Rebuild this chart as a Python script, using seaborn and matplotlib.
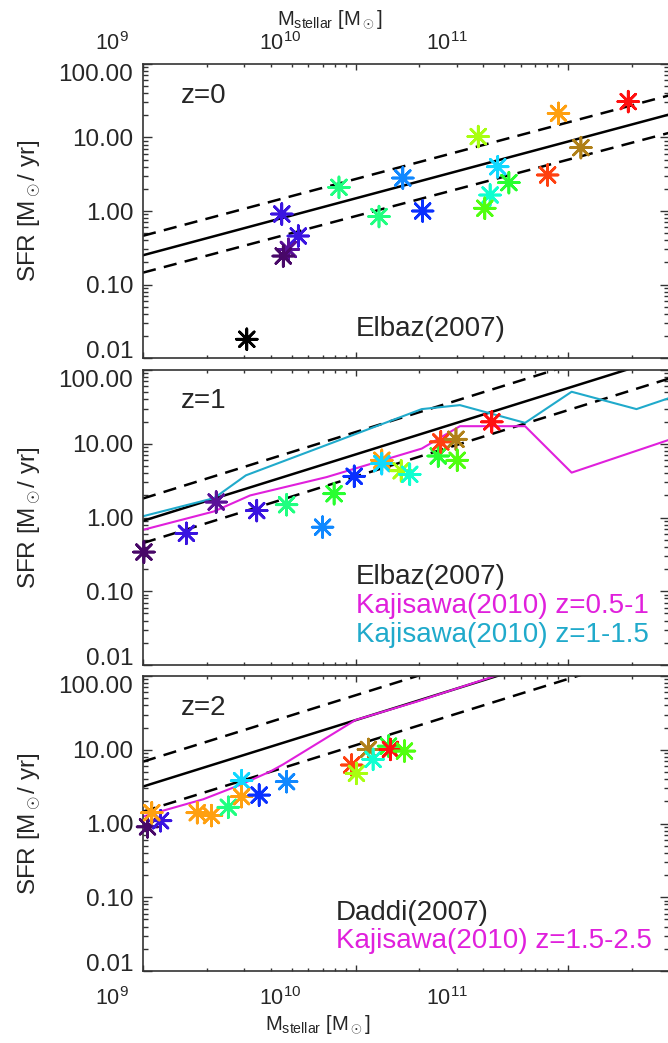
import matplotlib
matplotlib.use("Agg")
import matplotlib.pyplot as plt
import matplotlib.ticker as mticker
import seaborn as sns
import pandas as pd

# ------------------------------------------------------------------ data
galaxy_colors = {
    "black": "#000000", "dpurple": "#480868", "purple": "#5a1098",
    "bviolet": "#3a14e0", "blue": "#0a30ff", "azure": "#1088ff",
    "cyan": "#10d8ff", "turq": "#10ffd0", "sgreen": "#20ff80",
    "green": "#28ff30", "chart": "#50ff10", "ygreen": "#a8ff10",
    "orange": "#ffa010", "gold": "#b08018", "ored": "#ff4010", "red": "#ff1010",
}

# z = 0 galaxies
z0_mass = [3.08e9, 4.50e9, 5.38e9, 4.83e9, 4.57e9, 8.36e9, 1.29e10, 1.67e10, 2.07e10,
           3.78e10, 4.67e10, 5.27e10, 4.30e10, 4.06e10, 8.02e10, 9.02e10, 1.15e11, 1.92e11]
z0_sfr = [0.018, 0.91, 0.457, 0.30, 0.244, 2.10, 0.84, 2.81, 1.00,
          10.3, 4.0, 2.43, 1.65, 1.09, 3.09, 21.3, 7.28, 30.8]
z0_gal = ["black", "bviolet", "bviolet", "purple", "dpurple", "sgreen", "sgreen", "azure", "blue",
          "ygreen", "cyan", "green", "turq", "chart", "ored", "orange", "gold", "red"]

# z = 1 galaxies
z1_mass = [1.01e9, 1.60e9, 2.21e9, 3.43e9, 4.74e9, 7.00e9, 7.93e9, 9.86e9, 1.33e10,
           1.33e10, 1.64e10, 1.80e10, 2.45e10, 2.52e10, 2.97e10, 3.01e10, 4.38e10]
z1_sfr = [0.34, 0.61, 1.62, 1.24, 1.49, 0.74, 2.10, 3.62, 5.97,
          5.37, 4.3, 3.85, 6.82, 10.6, 11.5, 5.97, 19.8]
z1_gal = ["dpurple", "bviolet", "purple", "bviolet", "sgreen", "azure", "green", "blue", "orange",
          "cyan", "ygreen", "turq", "green", "ored", "gold", "chart", "red"]

# z = 2 galaxies
z2_mass = [1.05e9, 1.21e9, 1.10e9, 1.80e9, 2.10e9, 2.52e9, 2.91e9, 2.91e9, 3.52e9,
           4.74e9, 9.59e9, 1.01e10, 1.15e10, 1.21e10, 1.43e10, 1.46e10, 1.70e10]
z2_sfr = [0.90, 1.09, 1.40, 1.40, 1.28, 1.66, 3.81, 2.31, 2.43,
          3.69, 6.21, 4.78, 10.1, 7.41, 11.2, 10.1, 9.6]
z2_gal = ["dpurple", "bviolet", "orange", "orange", "orange", "sgreen", "cyan", "orange", "blue",
          "azure", "ored", "ygreen", "gold", "turq", "green", "red", "chart"]

# observed main-sequence relations (values at the two ends of the mass range)
rel_mass = [1e9, 3e11]
elbaz_z0_mid = [0.25, 20.6]
elbaz_z0_hi = [0.46, 37.5]
elbaz_z0_lo = [0.145, 11.6]
elbaz_z1_mid = [0.90, 153.0]
elbaz_z1_hi = [1.81, 307.0]
elbaz_z1_lo = [0.45, 76.8]
daddi_z2_mid = [3.17, 537.0]
daddi_z2_hi = [6.9, 1167.0]
daddi_z2_lo = [1.45, 245.0]

# Kajisawa (2010) median relations
kaj_a_mass = [1.0e9, 2.16e9, 3.19e9, 7.31e9, 2.05e10, 3.10e10, 6.28e10, 1.04e11, 2.96e11]
kaj_a_sfr = [0.68, 1.21, 1.99, 3.53, 8.6, 17.3, 17.3, 4.06, 11.2]
kaj_b_mass = [1.0e9, 2.16e9, 3.05e9, 2.05e10, 3.10e10, 6.28e10, 1.04e11, 2.10e11, 2.96e11]
kaj_b_sfr = [1.04, 1.83, 3.73, 29.5, 33.4, 19.2, 50.7, 29.5, 41.2]
kaj_c_mass = [1.0e9, 1.20e9, 1.92e9, 2.86e9, 3.96e9, 4.57e9, 1.0e10, 1.94e10, 4.53e10, 5.62e10]
kaj_c_sfr = [1.24, 1.45, 2.13, 3.33, 5.05, 6.34, 25.3, 44.9, 100.0, 125.0]

ytick_vals = [0.01, 0.1, 1.0, 10.0, 100.0]
xtick_text = [r"$\mathregular{10^{9}}$", r"$\mathregular{10^{10}}$", r"$\mathregular{10^{11}}$"]

# ------------------------------------------------------------------ style
sns.set_theme(style="ticks")
plt.rcParams["font.family"] = ["Liberation Sans", "DejaVu Sans"]
plt.rcParams["mathtext.fontset"] = "custom"
plt.rcParams["mathtext.rm"] = "Liberation Sans"
plt.rcParams["mathtext.it"] = "Liberation Sans:italic"
plt.rcParams["mathtext.bf"] = "Liberation Sans:bold"
plt.rcParams["lines.scale_dashes"] = False

W, H = 668, 1043
fig = plt.figure(figsize=(W / 100, H / 100), dpi=100)

MAGENTA = "#e020dc"
CYAN = "#20aacb"


def fx(x):
    return x / W


def fy(y):
    return 1 - y / H


def make_axes(top, bottom):
    left, right = 143, 669.4
    ax = fig.add_axes([fx(left), fy(bottom), (right - left) / W, (bottom - top) / H])
    ax.set_xscale("log")
    ax.set_yscale("log")
    ax.set_xlim(1e9, 3e11)
    ax.set_ylim(0.01, 100)
    return ax


def style_axes(ax):
    for sp in ax.spines.values():
        sp.set_color("#333333")
        sp.set_linewidth(1.2)
    ax.set_yticks(ytick_vals)
    ax.yaxis.set_major_formatter(mticker.FormatStrFormatter("%.2f"))
    ax.yaxis.set_minor_formatter(mticker.NullFormatter())
    ax.xaxis.set_minor_formatter(mticker.NullFormatter())
    ax.xaxis.set_major_formatter(mticker.NullFormatter())
    ax.tick_params(which="both", direction="in", top=True, right=True,
                   labelbottom=False, labeltop=False, color="#333333", width=1.0)
    ax.tick_params(axis="y", which="major", length=6.5, labelsize=17.5, pad=7)
    ax.tick_params(axis="y", which="minor", length=3.6)
    ax.tick_params(axis="x", which="major", length=4.5)
    ax.tick_params(axis="x", which="minor", length=2.5)
    ax.set_xlabel("")
    ax.set_ylabel("")
    labels = ax.get_yticklabels()
    labels[0].set_va("baseline")
    labels[-1].set_va("top")


def relation(ax, mid, hi, lo):
    sns.lineplot(x=rel_mass, y=mid, ax=ax, color="black", lw=1.8,
                 estimator=None, sort=False)
    for v in (hi, lo):
        sns.lineplot(x=rel_mass, y=v, ax=ax, color="black", lw=1.8,
                     linestyle=(0, (9.5, 6.0)), estimator=None, sort=False)


def stars(ax, mass, sfr, gal):
    df = pd.DataFrame({"mass": mass, "sfr": sfr, "gal": gal})
    sns.scatterplot(data=df, x="mass", y="sfr", hue="gal", palette=galaxy_colors,
                    marker=(8, 2, 0), s=225, linewidth=1.9, legend=False, ax=ax,
                    clip_on=False, zorder=5)


# ---------------------------------------------------------- panel z=0
ax0 = make_axes(64, 358)
relation(ax0, elbaz_z0_mid, elbaz_z0_hi, elbaz_z0_lo)
stars(ax0, z0_mass, z0_sfr, z0_gal)
style_axes(ax0)

# ---------------------------------------------------------- panel z=1
ax1 = make_axes(370, 665)
relation(ax1, elbaz_z1_mid, elbaz_z1_hi, elbaz_z1_lo)
sns.lineplot(x=kaj_a_mass, y=kaj_a_sfr, ax=ax1, color=MAGENTA, lw=1.5,
             estimator=None, sort=False)
sns.lineplot(x=kaj_b_mass, y=kaj_b_sfr, ax=ax1, color=CYAN, lw=1.5,
             estimator=None, sort=False)
stars(ax1, z1_mass, z1_sfr, z1_gal)
style_axes(ax1)

# ---------------------------------------------------------- panel z=2
ax2 = make_axes(676, 971)
relation(ax2, daddi_z2_mid, daddi_z2_hi, daddi_z2_lo)
sns.lineplot(x=kaj_c_mass, y=kaj_c_sfr, ax=ax2, color=MAGENTA, lw=1.5,
             estimator=None, sort=False)
stars(ax2, z2_mass, z2_sfr, z2_gal)
style_axes(ax2)

for ax in (ax0, ax1, ax2):
    ax.set_xlim(1e9, 3e11)
    ax.set_ylim(0.01, 100)

# ---------------------------------------------------------- texts
TS = 20
fig.text(fx(181), fy(103), "z=0", fontsize=TS, va="baseline")
fig.text(fx(356), fy(336), "Elbaz(2007)", fontsize=TS, va="baseline")

fig.text(fx(181), fy(408), "z=1", fontsize=TS, va="baseline")
fig.text(fx(356), fy(584), "Elbaz(2007)", fontsize=TS, va="baseline")
fig.text(fx(356), fy(613), "Kajisawa(2010) z=0.5-1", fontsize=TS, va="baseline", color=MAGENTA)
fig.text(fx(356), fy(642.5), "Kajisawa(2010) z=1-1.5", fontsize=TS, va="baseline", color=CYAN)

fig.text(fx(181), fy(715), "z=2", fontsize=TS, va="baseline")
fig.text(fx(336), fy(920), "Daddi(2007)", fontsize=TS, va="baseline")
fig.text(fx(336), fy(948), "Kajisawa(2010) z=1.5-2.5", fontsize=TS, va="baseline", color=MAGENTA)

# y-axis titles
for yc in (211, 518, 823.5):
    fig.text(fx(30), fy(yc), r"SFR [M$_\odot$/ yr]", fontsize=17.5,
             rotation=90, ha="center", va="center")

# x tick labels (top and bottom) and x titles
for xc, lab in zip((112, 280, 447), xtick_text):
    fig.text(fx(xc), fy(50), lab, fontsize=15.5, ha="center", va="baseline")
    fig.text(fx(xc), fy(1005), lab, fontsize=15.5, ha="center", va="baseline")

xtitle = r"M$_{\mathregular{stellar}}$ [M$_\odot$]"
fig.text(fx(330), fy(25), xtitle, fontsize=14.5, ha="center", va="baseline")
fig.text(fx(318), fy(1030), xtitle, fontsize=14.5, ha="center", va="baseline")

fig.savefig("out.png", dpi=100)
